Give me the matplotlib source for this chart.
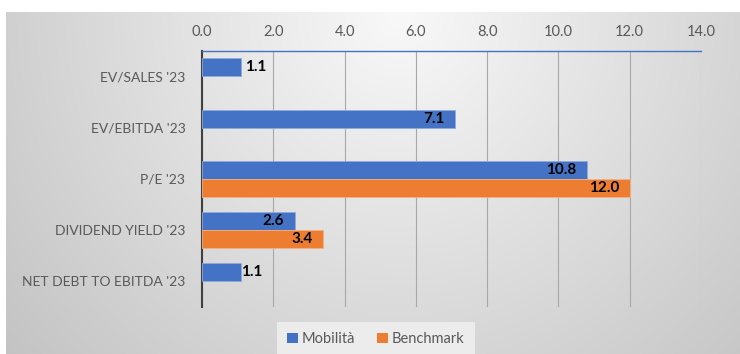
import numpy as np
import matplotlib
matplotlib.use("Agg")
import matplotlib.pyplot as plt
from matplotlib.patches import Patch

categories = ["EV/SALES '23", "EV/EBITDA '23", "P/E '23", "DIVIDEND YIELD '23", "NET DEBT TO EBITDA '23"]
mobilita = [1.1, 7.1, 10.8, 2.6, 1.1]
benchmark = [None, None, 12.0, 3.4, None]
series_names = ["Mobilità", "Benchmark"]
xticks = [0, 2, 4, 6, 8, 10, 12, 14]

plt.rcParams['font.family'] = ['Lato', 'DejaVu Sans']

W, H = 740, 354
fig = plt.figure(figsize=(W / 100, H / 100), dpi=100)

# gradient background
bg = fig.add_axes([6 / W, 0, 1 - 6 / W, (H - 12) / H])
bg.set_axis_off()
nx, ny = 370, 171
xx, yy = np.meshgrid(np.linspace(6, 740, nx), np.linspace(12, 354, ny))
r = np.sqrt(((xx - 400) / 420) ** 2 + ((yy - 12) / 430) ** 2)
v = np.clip(0.975 - 0.17 * r, 0, 1)
img = np.dstack([v, v, v])
bg.imshow(img, aspect='auto', extent=[0, 1, 0, 1], origin='upper')
bg.set_xlim(0, 1)
bg.set_ylim(0, 1)

ax = fig.add_axes([202 / W, 1 - 307 / H, (701 - 202) / W, (307 - 51) / H])
ax.patch.set_alpha(0)

blue = "#4472C4"
orange = "#ED7D31"
y = np.arange(len(categories))
h = 0.35
off = 0.18

ax.barh(y - off, mobilita, height=h, color=blue, edgecolor="#8FAADC", linewidth=0.6, zorder=3)
bars_b = [(yi, b) for yi, b in zip(y, benchmark) if b is not None]
ax.barh([p[0] + off for p in bars_b], [p[1] for p in bars_b], height=h, color=orange,
        edgecolor="#F4B183", linewidth=0.6, zorder=3)

lbl_kw = dict(va='center', fontsize=11, fontweight='bold', color='black', zorder=4)
for i, (yi, val) in enumerate(zip(y, mobilita)):
    if val < 2:
        dx = 0.1 if i == 0 else 0.0
        ax.text(val + dx, yi - off, f"{val:.1f}", ha='left', **lbl_kw)
    else:
        ax.text(val - 0.3, yi - off, f"{val:.1f}", ha='right', **lbl_kw)
for yi, val in bars_b:
    ax.text(val - 0.3, yi + off, f"{val:.1f}", ha='right', **lbl_kw)

ax.set_xlim(0, 14)
ax.set_ylim(len(categories) - 0.5, -0.5)
ax.set_xticks(xticks)
ax.set_xticklabels([f"{t:.1f}" for t in xticks])
ax.xaxis.tick_top()
ax.set_yticks(y)
ax.set_yticklabels(categories)
ax.tick_params(axis='x', length=0, pad=9, labelsize=10.5, colors='#595959')
ax.tick_params(axis='y', length=0, pad=12, labelsize=10, colors='#595959')
ax.grid(axis='x', color='#a8a8a8', linewidth=0.8, zorder=1)
ax.set_axisbelow(True)
for s in ['right', 'bottom']:
    ax.spines[s].set_visible(False)
ax.spines['left'].set_color('#404040')
ax.spines['left'].set_linewidth(1.5)
ax.spines['top'].set_color(blue)
ax.spines['top'].set_linewidth(1.0)

handles = [Patch(facecolor=blue, edgecolor='none'), Patch(facecolor=orange, edgecolor='none')]
leg = fig.legend(handles, series_names, loc='center', bbox_to_anchor=(376 / W, 1 - 339 / H),
                 ncol=2, frameon=True, fontsize=10.5, handlelength=0.7, handleheight=0.7,
                 handletextpad=0.3, columnspacing=1.5, borderpad=0.4)
leg.get_frame().set_facecolor('#ececec')
leg.get_frame().set_edgecolor('none')
leg.get_frame().set_alpha(1)
leg.get_frame().set_boxstyle('square', pad=0.3)
for t in leg.get_texts():
    t.set_color('#595959')

fig.savefig("out.png", dpi=100)
